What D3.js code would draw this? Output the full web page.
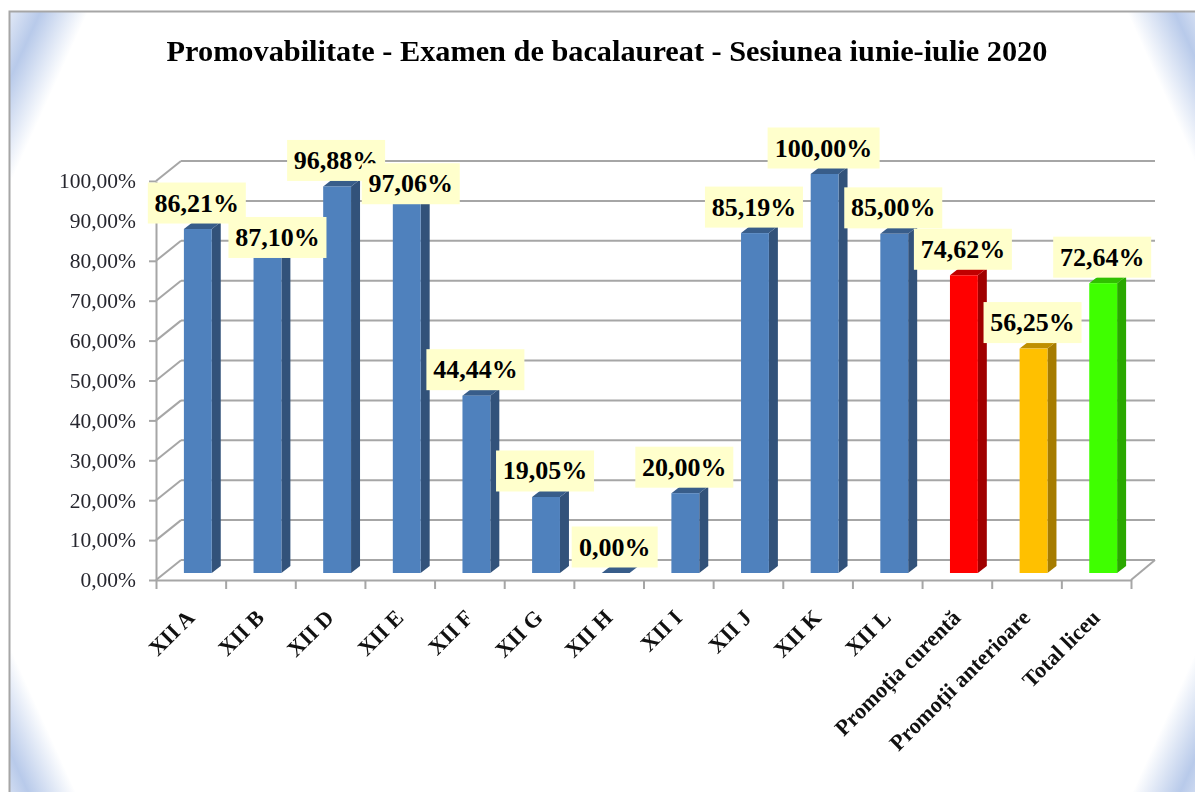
<!DOCTYPE html>
<html>
<head>
<meta charset="utf-8">
<script src="https://cdn.jsdelivr.net/npm/d3@7"></script>
<style>
  html, body { margin: 0; padding: 0; background: #fff; overflow: hidden; }
  text { font-family: "Liberation Serif", "Times New Roman", serif; }
  svg { filter: blur(0.45px); }
</style>
</head>
<body>
<script>
var titleText = "Promovabilitate - Examen de bacalaureat - Sesiunea iunie-iulie 2020";

var categories = ["XII A", "XII B", "XII D", "XII E", "XII F", "XII G", "XII H", "XII I", "XII J", "XII K", "XII L",
    "Promoția curentă", "Promoții anterioare", "Total liceu"];
var values = [86.21, 87.10, 96.88, 97.06, 44.44, 19.05, 0, 20, 85.19, 100, 85, 74.62, 56.25, 72.64];
var valueLabels = ["86,21%", "87,10%", "96,88%", "97,06%", "44,44%", "19,05%", "0,00%", "20,00%", "85,19%", "100,00%",
    "85,00%", "74,62%", "56,25%", "72,64%"];
var yTicks = [0, 10, 20, 30, 40, 50, 60, 70, 80, 90, 100];
var yTickLabels = ["0,00%", "10,00%", "20,00%", "30,00%", "40,00%", "50,00%", "60,00%", "70,00%", "80,00%", "90,00%", "100,00%"];

// face, side and top colours of the bars
var blue = ["#4f81bd", "#32527a", "#385d8a"];
var barColors = { "Promoția curentă": ["#ff0000", "#a00000", "#c00000"],
    "Promoții anterioare": ["#ffc000", "#a67c00", "#bf9000"],
    "Total liceu": ["#3fff00", "#2aa800", "#30c000"] };

// two labels were dragged off their bars in the original
var movedLabels = { "XII B": [11, 38], "XII E": [5, 24] };

var width = 1195, height = 792;
var plot = { left: 156, right: 1131, top: 181, bottom: 580 };
var wall = { dx: 25, dy: -20 }; // depth of the 3d box
var bar = { dx: 9, dy: -7, inset: 7 }; // depth of one bar, and where it stands on the floor

var svg = d3.select("body").append("svg")
    .attr("width", width)
    .attr("height", height)
    .style("display", "block");

var xScale = d3.scaleBand().domain(categories).range([plot.left, plot.right]);
var xTickScale = d3.scaleLinear().domain([0, categories.length]).range([plot.left, plot.right]);
var yScale = d3.scaleLinear().domain([0, 100]).range([plot.bottom, plot.top]);

// corner shading of the chart area
var defs = svg.append("defs");
var corners = [[9, 11, 1, 1], [1206, 11, -1, 1], [9, 820, 1, -1], [1206, 805, -1, -1]];
corners.forEach(function (c, i) {
    var grad = defs.append("linearGradient")
        .attr("id", "corner" + i)
        .attr("gradientUnits", "userSpaceOnUse")
        .attr("x1", c[0]).attr("y1", c[1])
        .attr("x2", c[0] + c[2] * 66).attr("y2", c[1] + c[3] * 30);
    grad.append("stop").attr("offset", 0).attr("stop-color", "#e2e9f6");
    grad.append("stop").attr("offset", 0.4).attr("stop-color", "#b8caea");
    grad.append("stop").attr("offset", 1).attr("stop-color", "#ffffff");
    svg.append("polygon")
        .attr("points", [[c[0], c[1]], [c[0] + c[2] * 79, c[1]], [c[0], c[1] + c[3] * 177]].join(" "))
        .attr("fill", "url(#corner" + i + ")");
});

// frame, only top and left are inside the picture
svg.append("path")
    .attr("d", "M9.5," + height + "V11.5H" + width)
    .attr("fill", "none")
    .attr("stroke", "#a6a6a6")
    .attr("stroke-width", 2);

svg.append("text")
    .attr("x", 607)
    .attr("y", 61)
    .attr("text-anchor", "middle")
    .attr("font-size", 30.3)
    .attr("font-weight", "bold")
    .attr("fill", "#000")
    .text(titleText);

// gridlines on the back wall and the left wall
var gridColor = "#a6a6a6";
var grid = svg.append("g").attr("stroke", gridColor).attr("stroke-width", 2).attr("fill", "none");

grid.selectAll(".back")
    .data(yTicks)
    .join("line")
    .attr("class", "back")
    .attr("x1", plot.left + wall.dx)
    .attr("x2", plot.right + wall.dx - 1)
    .attr("y1", function (d) { return yScale(d) + wall.dy; })
    .attr("y2", function (d) { return yScale(d) + wall.dy; });

grid.selectAll(".side")
    .data(yTicks)
    .join("line")
    .attr("class", "side")
    .attr("x1", plot.left)
    .attr("x2", plot.left + wall.dx)
    .attr("y1", function (d) { return yScale(d); })
    .attr("y2", function (d) { return yScale(d) + wall.dy; });

// floor edge on the right
grid.append("line")
    .attr("x1", plot.right)
    .attr("y1", yScale(0))
    .attr("x2", plot.right + wall.dx - 1)
    .attr("y2", yScale(0) + wall.dy);

// axes
var yAxis = svg.append("g")
    .attr("transform", "translate(" + plot.left + ",0)")
    .call(d3.axisLeft(yScale)
        .tickValues(yTicks)
        .tickFormat(function (d, i) { return yTickLabels[i]; })
        .tickSize(7)
        .tickSizeOuter(0)
        .tickPadding(13));
yAxis.selectAll("text").attr("font-size", 21.5).attr("font-family", null).attr("fill", "#26262e");

var xAxis = svg.append("g")
    .attr("transform", "translate(0," + plot.bottom + ")")
    .call(d3.axisBottom(xTickScale)
        .tickValues(d3.range(categories.length + 1))
        .tickFormat("")
        .tickSize(9)
        .tickSizeOuter(0));

svg.selectAll(".domain, .tick line").attr("stroke", gridColor).attr("stroke-width", 2);

// category labels
svg.selectAll(".cat")
    .data(categories)
    .join("text")
    .attr("class", "cat")
    .attr("text-anchor", "end")
    .attr("font-size", 22.3)
    .attr("font-weight", "bold")
    .attr("fill", "#111")
    .attr("transform", function (d) {
        return "translate(" + (xScale(d) + xScale.bandwidth() / 2 + 5) + ",619) rotate(-45)";
    })
    .text(function (d) { return d; });

// bars: side, top, then front face
var barW = xScale.bandwidth() * 0.4;
function barLeft(d) { return xScale(d) + (xScale.bandwidth() - barW) / 2 + bar.inset; }
function barColor(d) { return barColors[d] || blue; }

var bars = svg.selectAll(".bar")
    .data(categories)
    .join("g")
    .attr("class", "bar");

bars.append("path")
    .attr("fill", function (d) { return barColor(d)[1]; })
    .attr("d", function (d, i) {
        var x1 = barLeft(d) + barW, top = yScale(values[i]) - bar.inset, base = yScale(0) - bar.inset;
        return "M" + x1 + "," + top + "l" + bar.dx + "," + bar.dy + "V" + (base + bar.dy) + "L" + x1 + "," + base + "Z";
    });

bars.append("path")
    .attr("fill", function (d) { return barColor(d)[2]; })
    .attr("d", function (d, i) {
        var x0 = barLeft(d), top = yScale(values[i]) - bar.inset;
        return "M" + x0 + "," + top + "l" + bar.dx + "," + bar.dy + "h" + barW + "l" + (-bar.dx) + "," + (-bar.dy) + "Z";
    });

bars.append("rect")
    .attr("fill", function (d) { return barColor(d)[0]; })
    .attr("x", barLeft)
    .attr("y", function (d, i) { return yScale(values[i]) - bar.inset; })
    .attr("width", barW)
    .attr("height", function (d, i) { return yScale(0) - yScale(values[i]); });

// value labels on pale yellow boxes
var labels = svg.selectAll(".label")
    .data(categories)
    .join("g")
    .attr("class", "label")
    .attr("transform", function (d, i) {
        var moved = movedLabels[d] || [0, 0];
        var cx = barLeft(d) + barW / 2 - 1 + moved[0];
        var cy = yScale(values[i]) - bar.inset - 26 + moved[1];
        return "translate(" + cx + "," + cy + ")";
    });

labels.append("rect")
    .attr("x", function (d, i) { return values[i] === 100 ? -56 : (values[i] === 0 ? -43 : -49); })
    .attr("y", -20.5)
    .attr("width", function (d, i) { return values[i] === 100 ? 112 : (values[i] === 0 ? 86 : 98); })
    .attr("height", 41)
    .attr("fill", "#ffffcc");

labels.append("text")
    .attr("text-anchor", "middle")
    .attr("y", 8.5)
    .attr("font-size", 26)
    .attr("font-weight", "bold")
    .attr("fill", "#000")
    .text(function (d, i) { return valueLabels[i]; });
</script>
</body>
</html>
